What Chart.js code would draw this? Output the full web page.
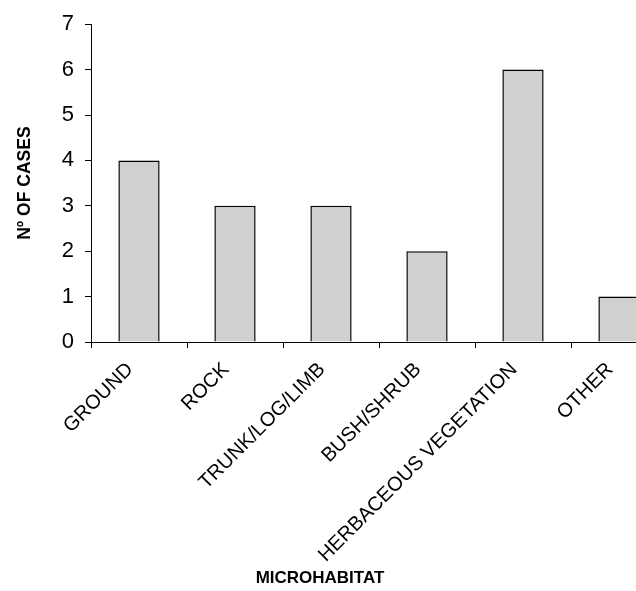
<!DOCTYPE html>
<html>
<head>
<meta charset="utf-8">
<script src="https://cdn.jsdelivr.net/npm/chart.js@4/dist/chart.umd.min.js"></script>
<style>
    html, body { margin: 0; padding: 0; background: #ffffff; overflow: hidden; }
    #wrap { width: 636px; height: 591px; overflow: hidden; }
</style>
</head>
<body>
<div id="wrap"><canvas id="chart" width="700" height="591"></canvas></div>
<script>
const categories = ["GROUND", "ROCK", "TRUNK/LOG/LIMB", "BUSH/SHRUB", "HERBACEOUS VEGETATION", "OTHER"];
const cases = [4, 3, 3, 2, 6, 1];
const yTicks = [0, 1, 2, 3, 4, 5, 6, 7];

const FONT = "'Liberation Sans', Arial, sans-serif";

// x axis title sits centred on the visible page, not on the chart area
const xTitlePlugin = {
    id: "xTitle",
    afterDraw(chart) {
        const { ctx } = chart;
        ctx.save();
        ctx.font = "bold 17px " + FONT;
        ctx.fillStyle = "#000000";
        ctx.textAlign = "center";
        ctx.textBaseline = "middle";
        ctx.fillText("MICROHABITAT", 320, 578);
        ctx.restore();
    }
};

new Chart(document.getElementById("chart"), {
    type: "bar",
    data: {
        labels: categories,
        datasets: [
            {
                data: cases,
                backgroundColor: "#d0d0d0",
                borderColor: "#000000",
                borderWidth: 1.5,
                categoryPercentage: 1,
                barPercentage: 0.43
            }
        ]
    },
    options: {
        responsive: false,
        animation: false,
        layout: {
            padding: { top: 23, left: 0, right: 33, bottom: 0 }
        },
        plugins: {
            legend: { display: false },
            tooltip: { enabled: false }
        },
        scales: {
            x: {
                afterFit: (scale) => { scale.height = 249; },
                border: { display: true, color: "#000000", width: 1 },
                grid: {
                    offset: true,
                    drawOnChartArea: false,
                    drawTicks: true,
                    tickLength: 6,
                    color: "#000000"
                },
                ticks: {
                    color: "#000000",
                    font: { family: FONT, size: 20 },
                    maxRotation: 45,
                    minRotation: 45,
                    autoSkip: false,
                    padding: 10,
                    labelOffset: -9
                }
            },
            y: {
                min: 0,
                max: 7,
                afterFit: (scale) => { scale.width = 91; },
                afterBuildTicks: (scale) => {
                    scale.ticks = yTicks.map((v) => ({ value: v }));
                },
                border: { display: true, color: "#000000", width: 1 },
                grid: {
                    drawOnChartArea: false,
                    drawTicks: true,
                    tickLength: 6,
                    color: "#000000"
                },
                ticks: {
                    color: "#000000",
                    font: { family: FONT, size: 22 },
                    padding: 11
                },
                title: {
                    display: true,
                    text: "Nº OF CASES",
                    color: "#000000",
                    font: { family: FONT, size: 17.5, weight: "bold" },
                    padding: { top: 15, bottom: 0 }
                }
            }
        }
    },
    plugins: [xTitlePlugin]
});
</script>
</body>
</html>
